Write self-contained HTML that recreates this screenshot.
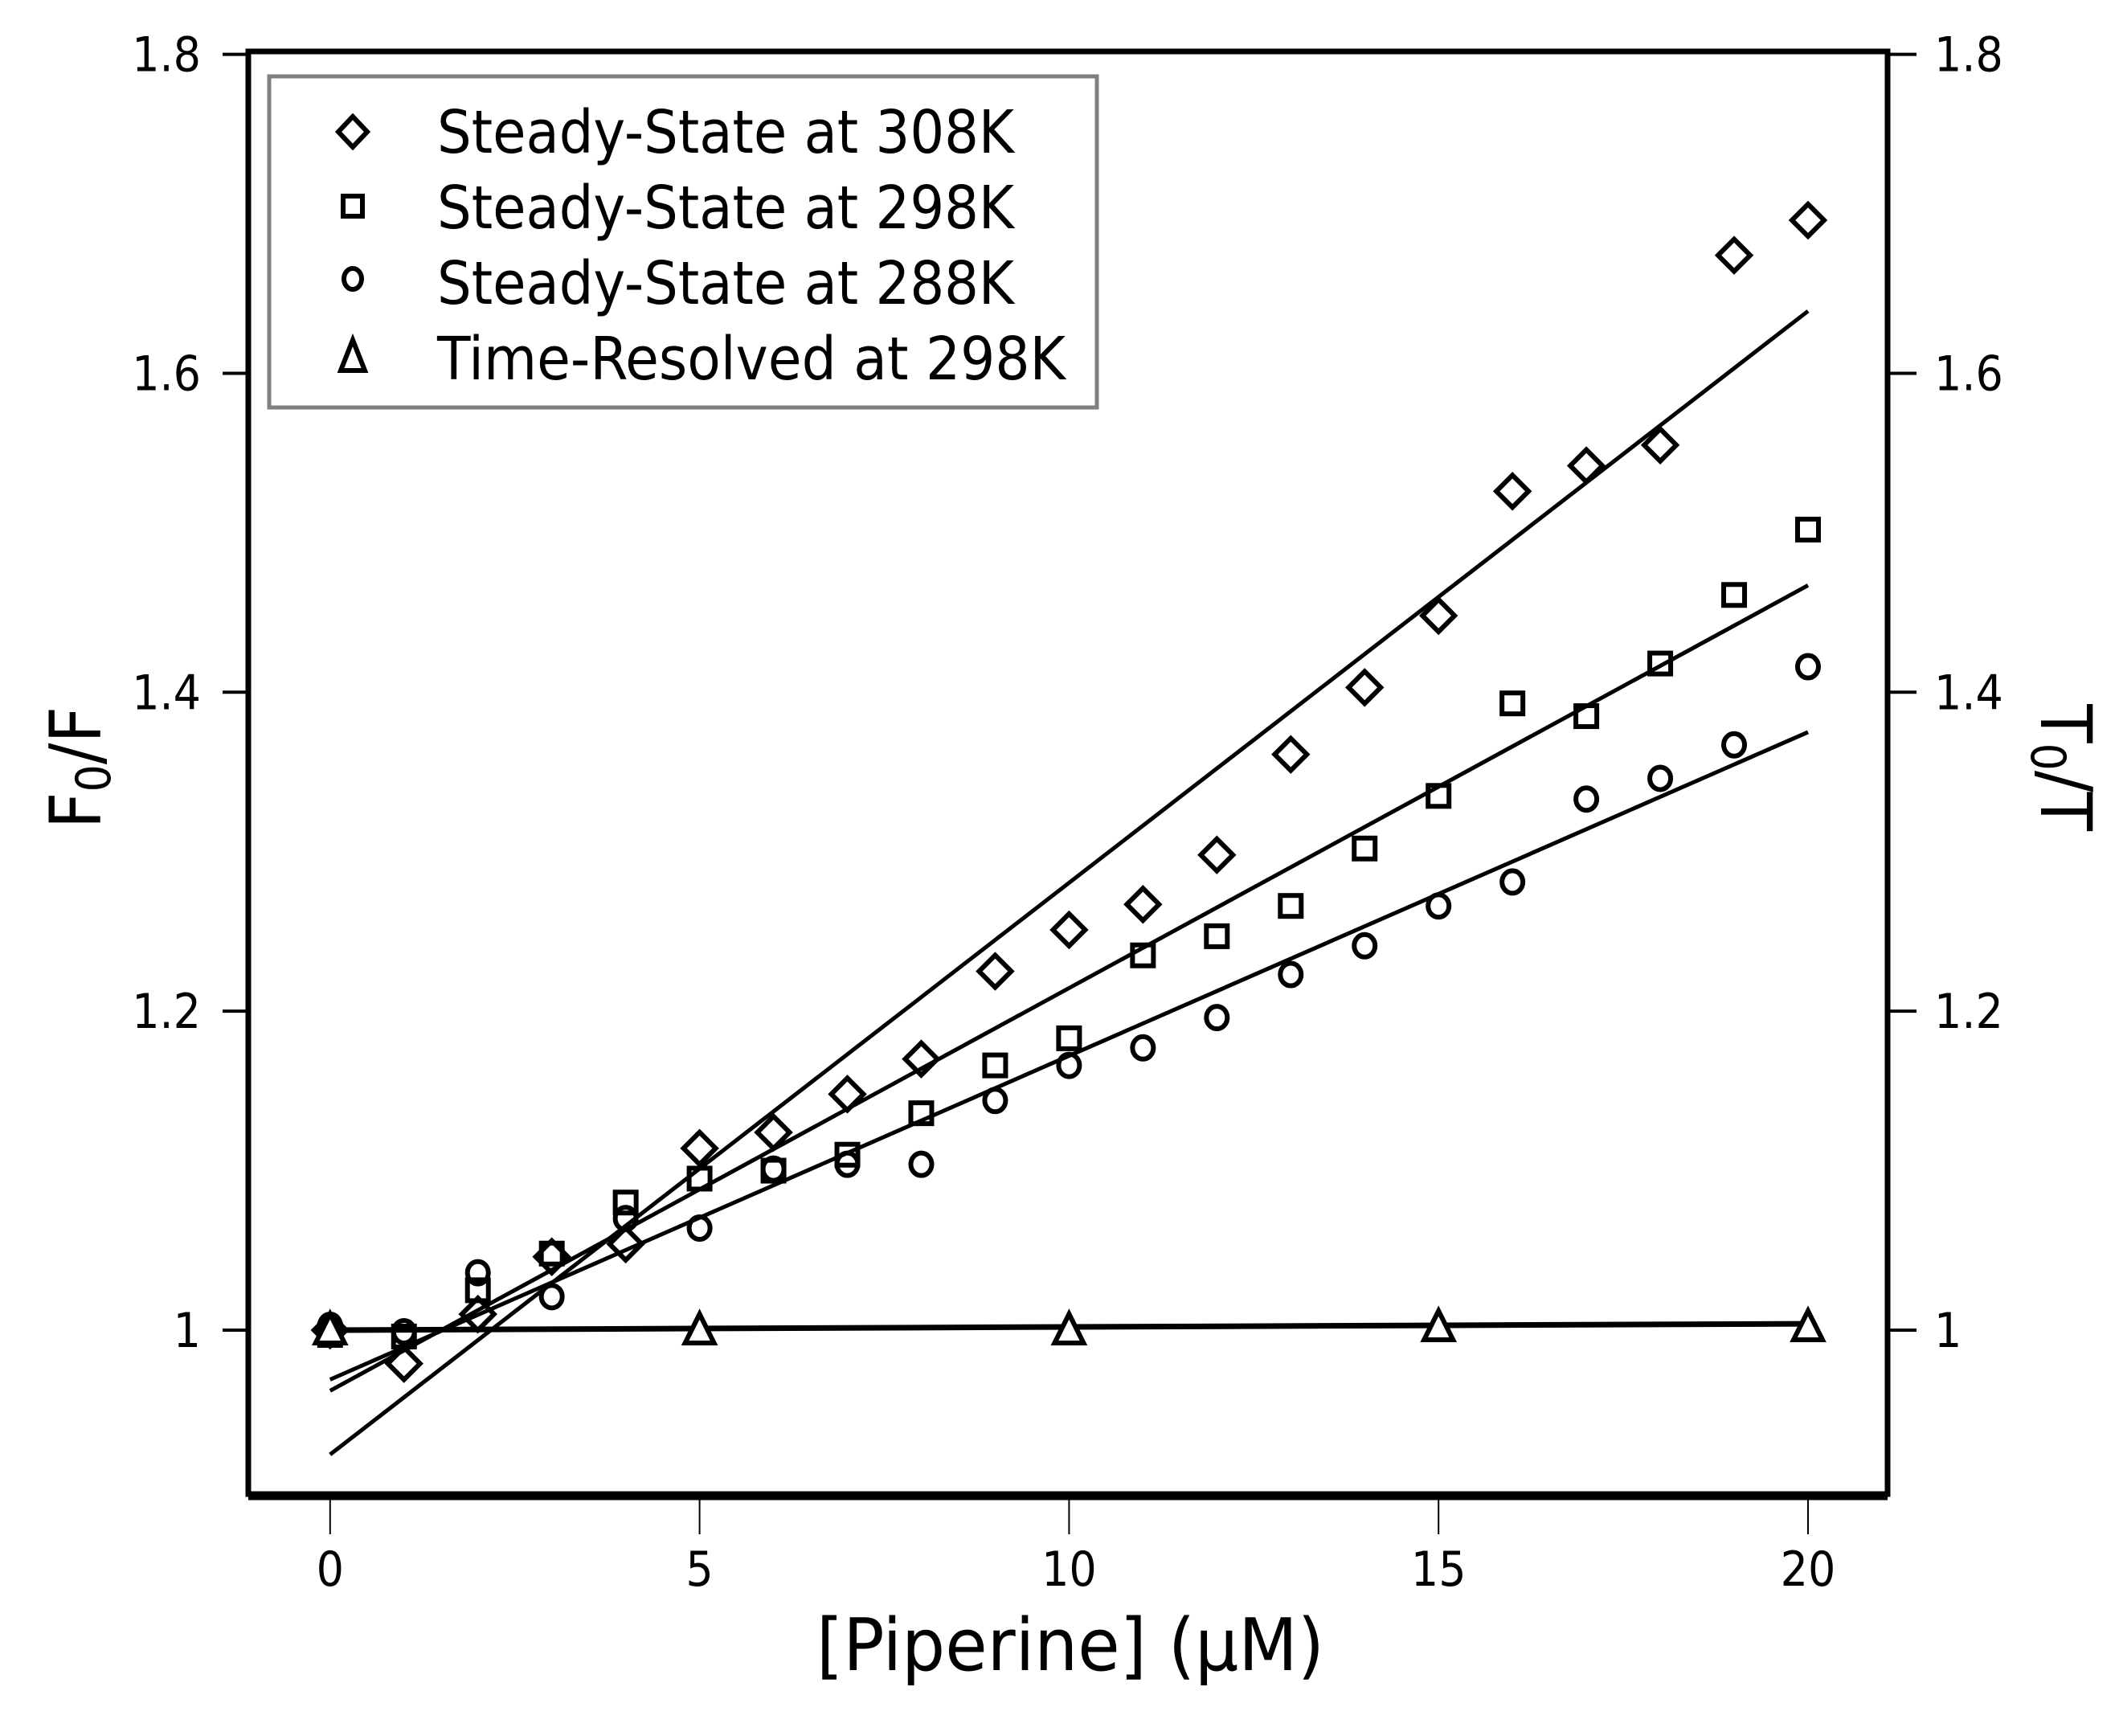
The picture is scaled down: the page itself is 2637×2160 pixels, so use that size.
<!DOCTYPE html>
<html><head><meta charset="utf-8"><style>
html,body{margin:0;padding:0;background:#fff;}
svg{display:block;font-family:"DejaVu Sans Condensed","Liberation Sans",sans-serif;}
</style></head><body>
<svg id="chart" width="2637" height="2160" viewBox="0 0 2637 2160" xmlns="http://www.w3.org/2000/svg">
<g id="marks"></g>
<g id="axes"></g>
<g>
  <rect x="335" y="95" width="1030" height="412" fill="#fff" stroke="#808080" stroke-width="5"/>
  <g>
    <path d="M439 145 L457 164 L439 183 L421 164 Z" fill="none" stroke="#000" stroke-width="6"/>
    <text x="544" y="190" font-size="74" textLength="718" lengthAdjust="spacingAndGlyphs">Steady-State at 308K</text>
  </g>
  <g>
    <rect x="427" y="244" width="24" height="25" fill="none" stroke="#000" stroke-width="6"/>
    <text x="544" y="284" font-size="74" textLength="718" lengthAdjust="spacingAndGlyphs">Steady-State at 298K</text>
  </g>
  <g>
    <ellipse cx="439" cy="347" rx="11" ry="13" fill="none" stroke="#000" stroke-width="6"/>
    <text x="544" y="378" font-size="74" textLength="718" lengthAdjust="spacingAndGlyphs">Steady-State at 288K</text>
  </g>
  <g>
    <path d="M439 423 L454 461 L424 461 Z" fill="none" stroke="#000" stroke-width="6"/>
    <text x="544" y="472" font-size="74" textLength="782" lengthAdjust="spacingAndGlyphs">Time-Resolved at 298K</text>
  </g>
</g>
</svg>
<script>
const concentrations = [0,1,2,3,4,5,6,7,8,9,10,11,12,13,14,15,16,17,18,19,20];
const ss308 = [1.0,0.979,1.01,1.046,1.054,1.114,1.124,1.148,1.17,1.225,1.251,1.267,1.298,1.361,1.403,1.448,1.526,1.542,1.555,1.674,1.696];
const ss298 = [0.997,0.996,1.025,1.048,1.08,1.095,1.1,1.11,1.136,1.166,1.183,1.235,1.247,1.266,1.302,1.335,1.393,1.385,1.418,1.461,1.502];
const ss288 = [1.003,0.999,1.036,1.021,1.07,1.064,1.101,1.104,1.104,1.144,1.166,1.177,1.196,1.223,1.241,1.266,1.281,1.333,1.346,1.367,1.416];
const trX = [0,5,10,15,20];
const tr298 = [1.0,1.0,1.0,1.002,1.002];
const fitX = [0,20];
const fit308 = [0.922,1.639];
const fit298 = [0.962,1.467];
const fit288 = [0.969,1.375];
const fitTR = [1.0,1.004];
const xTicks = [0,5,10,15,20];
const yTicks = [1,1.2,1.4,1.6,1.8];
const yTickLabels = ["1","1.2","1.4","1.6","1.8"];

const NS="http://www.w3.org/2000/svg";
const L=309,R=2349,T=64,B=1859;
const x0=410.8,xPer=(2250-410.8)/20;
const y1=1655,yPer=(1655-67.6)/0.8;
function sx(v){return x0+v*xPer;}
function sy(v){return y1-(v-1)*yPer;}
function mk(tag,attrs,parent){const e=document.createElementNS(NS,tag);for(const k in attrs)e.setAttribute(k,attrs[k]);parent.appendChild(e);return e;}
const marks=document.getElementById('marks');
const axes=document.getElementById('axes');

function line(xs,ys,name,w){
  const e=mk('line',{x1:sx(xs[0]),y1:sy(ys[0]),x2:sx(xs[1]),y2:sy(ys[1]),stroke:'#000','stroke-width':w},marks);
  
  
}
line(fitX,fit308,'fit-line-308k',5);
line(fitX,fit298,'fit-line-298k',5);
line(fitX,fit288,'fit-line-288k',5);
line(fitX,fitTR,'fit-line-time-resolved',7);

concentrations.forEach((c,i)=>{
  const x=sx(c);
  let y=sy(ss308[i]);
  const d=mk('path',{d:`M${x} ${y-20} L${x+20} ${y} L${x} ${y+20} L${x-20} ${y} Z`,fill:'none',stroke:'#000','stroke-width':6},marks);
  
  
  y=sy(ss298[i]);
  const s=mk('rect',{x:x-13,y:y-13,width:26,height:26,fill:'none',stroke:'#000','stroke-width':6},marks);
  
  
  y=sy(ss288[i]);
  const o=mk('ellipse',{cx:x,cy:y,rx:13,ry:14,fill:'none',stroke:'#000','stroke-width':6},marks);
  
  
});
trX.forEach((c,i)=>{
  const x=sx(c),y=sy(tr298[i]);
  const t=mk('path',{d:`M${x} ${y-20} L${x+18} ${y+16} L${x-18} ${y+16} Z`,fill:'#fff',stroke:'#000','stroke-width':6},marks);
  
  
});

const fr=mk('rect',{x:L,y:T,width:R-L,height:B-T,fill:'none',stroke:'#000','stroke-width':7},axes);


const bl=mk('line',{x1:L,y1:B+2,x2:R,y2:B+2,stroke:'#000','stroke-width':11},axes);



xTicks.forEach(v=>{
  const x=sx(v);
  const t=mk('line',{x1:x,y1:B,x2:x,y2:B+50,stroke:'#000','stroke-width':2},axes);
  
  
  const lb=mk('text',{x:x,y:1973,'font-size':60,'text-anchor':'middle'},axes);
  lb.textContent=String(v);
  
  
});
yTicks.forEach((v,i)=>{
  const y=sy(v);
  const t=mk('line',{x1:L-32,y1:y,x2:L,y2:y,stroke:'#000','stroke-width':4},axes);
  
  
  const t2=mk('line',{x1:R,y1:y,x2:R+36,y2:y,stroke:'#000','stroke-width':4},axes);
  
  
  const lb=mk('text',{x:250,y:y+21,'font-size':60,'text-anchor':'end'},axes);
  lb.textContent=yTickLabels[i];
  
  
  const lb2=mk('text',{x:2407,y:y+21,'font-size':60,'text-anchor':'start'},axes);
  lb2.textContent=yTickLabels[i];
  
  
});

const xt=mk('text',{x:1332,y:2078,'font-size':90,'text-anchor':'middle',textLength:632,lengthAdjust:'spacingAndGlyphs'},axes);
xt.textContent='[Piperine] (μM)';



const yt=mk('text',{x:0,y:0,'font-size':88,'text-anchor':'middle',transform:'translate(125,955) rotate(-90)'},axes);
yt.innerHTML='F<tspan font-size="60" dy="12">0</tspan><tspan dy="-12">/F</tspan>';



const yt2=mk('text',{x:0,y:0,'font-size':88,'text-anchor':'middle',transform:'translate(2540,955) rotate(90)'},axes);
yt2.innerHTML='T<tspan font-size="60" dy="12">0</tspan><tspan dy="-12">/T</tspan>';


</script>
</body></html>
